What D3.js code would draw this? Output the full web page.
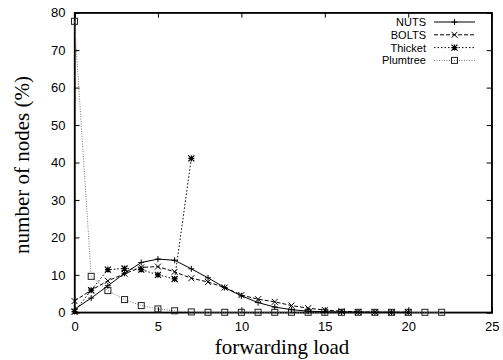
<!DOCTYPE html>
<html><head><meta charset="utf-8">
<script src="https://cdn.jsdelivr.net/npm/d3@7"></script>
<style>body{margin:0;background:#fff}svg{display:block}</style>
</head><body>
<svg id="c" width="503" height="360"></svg>
<script>
const nutsX = [0,1,2,3,4,5,6,7,8,9,10,11,12,13,14,15,16,17,18,19,20];
const nutsY = [0.8,3.8,7.1,10.4,13.3,14.2,13.9,11.6,9.2,6.6,4.4,2.6,1.4,0.7,0.3,0.15,0.1,0.05,0.02,0.01,0.0];
const boltsX = [0,1,2,3,4,5,6,7,8,9,10,11,12,13,14,15,16,17,18,19,20];
const boltsY = [3.0,5.9,8.4,10.3,12.0,12.2,10.8,9.1,8.1,6.6,4.6,3.5,2.8,1.8,1.1,0.6,0.3,0.1,0.05,0.02,0.0];
const thicketX = [0,1,2,3,4,5,6,7];
const thicketY = [0.2,5.9,11.4,11.7,11.4,10.0,8.9,41.1];
const plumX = [0,1,2,3,4,5,6,7,8,9,10,11,12,13,14,15,16,17,18,19,20,21,22];
const plumY = [77.7,9.6,5.8,3.4,1.8,0.9,0.4,0.1,0,0,0,0,0,0,0,0,0,0,0,0,0,0,0];
const seriesNames = ["NUTS","BOLTS","Thicket","Plumtree"];
const xTicks = [0,5,10,15,20,25];
const yTicks = [0,10,20,30,40,50,60,70,80];

const svg = d3.select("#c");
const L=74.5,R=491.7,T=12.7,B=312.3;
const x = d3.scaleLinear().domain([0,25]).range([L,R]);
const y = d3.scaleLinear().domain([0,80]).range([B,T]);

const tf = "Liberation Sans, Arial, sans-serif";
const sf = "Liberation Serif, Times New Roman, serif";
const gb = svg.append("g").attr("transform",`translate(0,${B})`).call(d3.axisBottom(x).tickValues(xTicks).tickSize(-5).tickPadding(9));
const gt = svg.append("g").attr("transform",`translate(0,${T})`).call(d3.axisTop(x).tickValues(xTicks).tickSize(-5).tickFormat(""));
const gl = svg.append("g").attr("transform",`translate(${L},0)`).call(d3.axisLeft(y).tickValues(yTicks).tickSize(-5).tickPadding(9));
const gr = svg.append("g").attr("transform",`translate(${R},0)`).call(d3.axisRight(y).tickValues(yTicks).tickSize(-5).tickFormat(""));
[gb,gt,gl,gr].forEach(g=>{
  g.select(".domain").attr("stroke","#000").attr("stroke-width",1.3);
  g.selectAll(".tick line").attr("stroke","#000");
  g.selectAll("text").attr("font-family",tf).attr("font-size",13).attr("fill","#000");
});
svg.append("rect").attr("x",L).attr("y",T).attr("width",R-L).attr("height",B-T).attr("fill","none").attr("stroke","#000").attr("stroke-width",1.3);

svg.append("text").attr("x",282).attr("y",354).attr("text-anchor","middle")
  .attr("font-family",sf).attr("font-size",21).text("forwarding load");
svg.append("text").attr("transform","translate(29,165) rotate(-90)").attr("text-anchor","middle")
  .attr("font-family",sf).attr("font-size",21).text("number of nodes (%)");

const line = d3.line().x(d=>x(d[0])).y(d=>y(d[1]));
const zip=(a,b)=>a.map((v,i)=>[v,b[i]]);
const series = [
  {name:seriesNames[0], data:zip(nutsX,nutsY), dash:null, color:"#000", mk:"plus"},
  {name:seriesNames[1], data:zip(boltsX,boltsY), dash:"4,2", color:"#000", mk:"cross"},
  {name:seriesNames[2], data:zip(thicketX,thicketY), dash:"1.5,2", color:"#000", mk:"star"},
  {name:seriesNames[3], data:zip(plumX,plumY), dash:"1,1.5", color:"#777", mk:"square"}
];
function marker(g,px,py,type){
  const s=3;
  if(type==="plus"){
    g.append("path").attr("d",`M${px-s},${py}H${px+s}M${px},${py-s}V${py+s}`).attr("stroke","#000").attr("stroke-width",1);
  } else if(type==="cross"){
    g.append("path").attr("d",`M${px-s},${py-s}L${px+s},${py+s}M${px-s},${py+s}L${px+s},${py-s}`).attr("stroke","#000").attr("stroke-width",1);
  } else if(type==="star"){
    g.append("path").attr("d",`M${px-s},${py}H${px+s}M${px},${py-s}V${py+s}M${px-s},${py-s}L${px+s},${py+s}M${px-s},${py+s}L${px+s},${py-s}`).attr("stroke","#000").attr("stroke-width",1.2);
  } else {
    g.append("rect").attr("x",px-3).attr("y",py-3).attr("width",6).attr("height",6).attr("fill","none").attr("stroke","#222").attr("stroke-width",1);
  }
}
series.slice().reverse().forEach(s=>{
  const g=svg.append("g");
  g.append("path").attr("d",line(s.data)).attr("fill","none").attr("stroke",s.color)
    .attr("stroke-width",1).attr("stroke-dasharray",s.dash);
  s.data.forEach(d=>marker(g,x(d[0]),y(d[1]),s.mk));
});

series.forEach((s,i)=>{
  const ly=22+i*12.8;
  svg.append("text").attr("x",426).attr("y",ly+4).attr("text-anchor","end")
    .attr("font-family",tf).attr("font-size",11).text(s.name);
  svg.append("line").attr("x1",434).attr("x2",475).attr("y1",ly).attr("y2",ly)
    .attr("stroke",s.color).attr("stroke-width",1).attr("stroke-dasharray",s.dash);
  marker(svg,454.5,ly,s.mk);
});
</script>
</body></html>
